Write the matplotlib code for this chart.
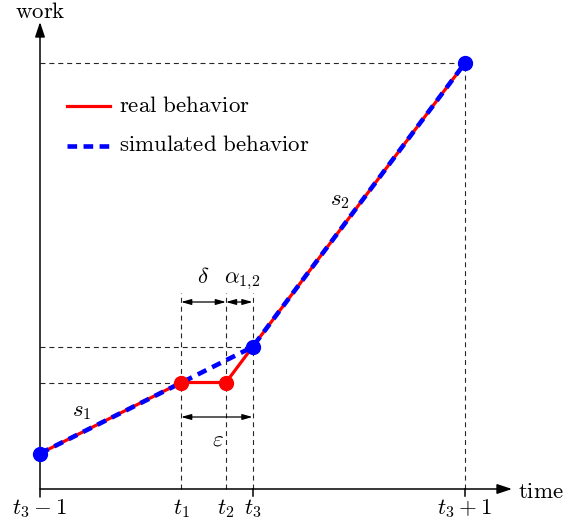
import matplotlib
matplotlib.use("Agg")
import matplotlib.pyplot as plt

plt.rcParams['mathtext.fontset'] = 'cm'
plt.rcParams['font.family'] = ['DejaVu Serif']

# ---- data ----
time_labels = [r'$t_3-1$', r'$t_1$', r'$t_2$', r'$t_3$', r'$t_3+1$']
t_prev, t1, t2, t3, t_next = 0.0, 0.664, 0.875, 1.0, 2.0
w_prev, w1, w3, w_next = 0.25, 0.75, 1.0, 3.0

real_t = [t_prev, t1, t2, t3, t_next]
real_w = [w_prev, w1, w1, w3, w_next]
sim_t = [t_prev, t3, t_next]
sim_w = [w_prev, w3, w_next]

# ---- figure ----
W, H = 563, 527
fig = plt.figure(figsize=(W / 100, H / 100), dpi=100)
ax = fig.add_axes([0, 0, 1, 1])
ax.set_axis_off()
sx, sy = 212.5, 142.0
ax.set_xlim(-40 / sx, (W - 40) / sx)
ax.set_ylim(-(H - 489) / sy, 489 / sy)

def px(x):
    return (x - 40) / sx

def py(y):
    return (489 - y) / sy

fs = 16.5
dash_kw = dict(color='0.15', lw=0.8, dashes=(4.5, 3.5), zorder=1)

# dashed guides
ax.plot([0, t_next], [w_next, w_next], **dash_kw)
ax.plot([t_next, t_next], [0, w_next], **dash_kw)
ax.plot([0, t3], [w3, w3], **dash_kw)
ax.plot([0, t1], [w1, w1], **dash_kw)
top_guides = py(293)
for tt in (t1, t2, t3):
    ax.plot([tt, tt], [0, top_guides], **dash_kw)

# axes with arrows
ax.annotate('', xy=(px(512), 0), xytext=(0, 0),
            arrowprops=dict(arrowstyle='-|>,head_length=0.9,head_width=0.3',
                            lw=1.1, color='black', shrinkA=0, shrinkB=0), zorder=3)
ax.annotate('', xy=(0, py(22)), xytext=(0, py(497)),
            arrowprops=dict(arrowstyle='-|>,head_length=0.9,head_width=0.3',
                            lw=1.1, color='black', shrinkA=0, shrinkB=0), zorder=3)
for tt in (t3, t_next):
    ax.plot([tt, tt], [0, py(496)], color='black', lw=1.1, zorder=3)

ax.text(px(40), py(12), r'$\mathrm{work}$', fontsize=fs, ha='center', va='center')
ax.text(px(518), py(492), r'$\mathrm{time}$', fontsize=fs, ha='left', va='center')

for lab, tt in zip(time_labels, [t_prev, t1, t2, t3, t_next]):
    ax.text(tt, py(509), lab, fontsize=fs, ha='center', va='center')

# behaviours
ax.plot(real_t, real_w, color='red', lw=2.3, zorder=4, solid_capstyle='butt')
ax.plot(sim_t, sim_w, color='blue', lw=3.3, dashes=(2.1, 1.4), zorder=5)
ax.plot([t1, t2], [w1, w1], 'o', color='red', ms=10, zorder=6)
ax.plot([t_prev, t3, t_next], [w_prev, w3, w_next], 'o', color='blue', ms=10, zorder=7)

# arrows for delta, alpha, epsilon
arr = dict(arrowstyle='<|-|>,head_length=0.6,head_width=0.17', lw=0.9,
           color='black', shrinkA=0, shrinkB=0)
ya = py(302)
ax.annotate('', xy=(t1, ya), xytext=(t2, ya), arrowprops=arr)
ax.annotate('', xy=(t2, ya), xytext=(t3, ya), arrowprops=arr)
ax.annotate('', xy=(t1, py(417)), xytext=(t3, py(417)), arrowprops=arr)
ax.text((t1 + t2) / 2, py(277), r'$\delta$', fontsize=fs, ha='center', va='center')
ax.text(px(242), py(281), r'$\alpha_{1{,}2}$', fontsize=fs, ha='center', va='center')
ax.text(px(218), py(440), r'$\varepsilon$', fontsize=fs, ha='center', va='center')

ax.text(px(82), py(411), r'$s_1$', fontsize=fs, ha='center', va='center')
ax.text(px(340), py(200), r'$s_2$', fontsize=fs, ha='center', va='center')

# legend
ax.plot([px(67), px(110)], [py(106), py(106)], color='red', lw=2.3)
ax.plot([px(67), px(110)], [py(146), py(146)], color='blue', lw=3.3, dashes=(2.1, 1.4))
ax.text(px(119), py(106), r'$\mathrm{real\ behavior}$', fontsize=fs, ha='left', va='center')
ax.text(px(119), py(145), r'$\mathrm{simulated\ behavior}$', fontsize=fs, ha='left', va='center')

fig.savefig('out.png', dpi=100)
